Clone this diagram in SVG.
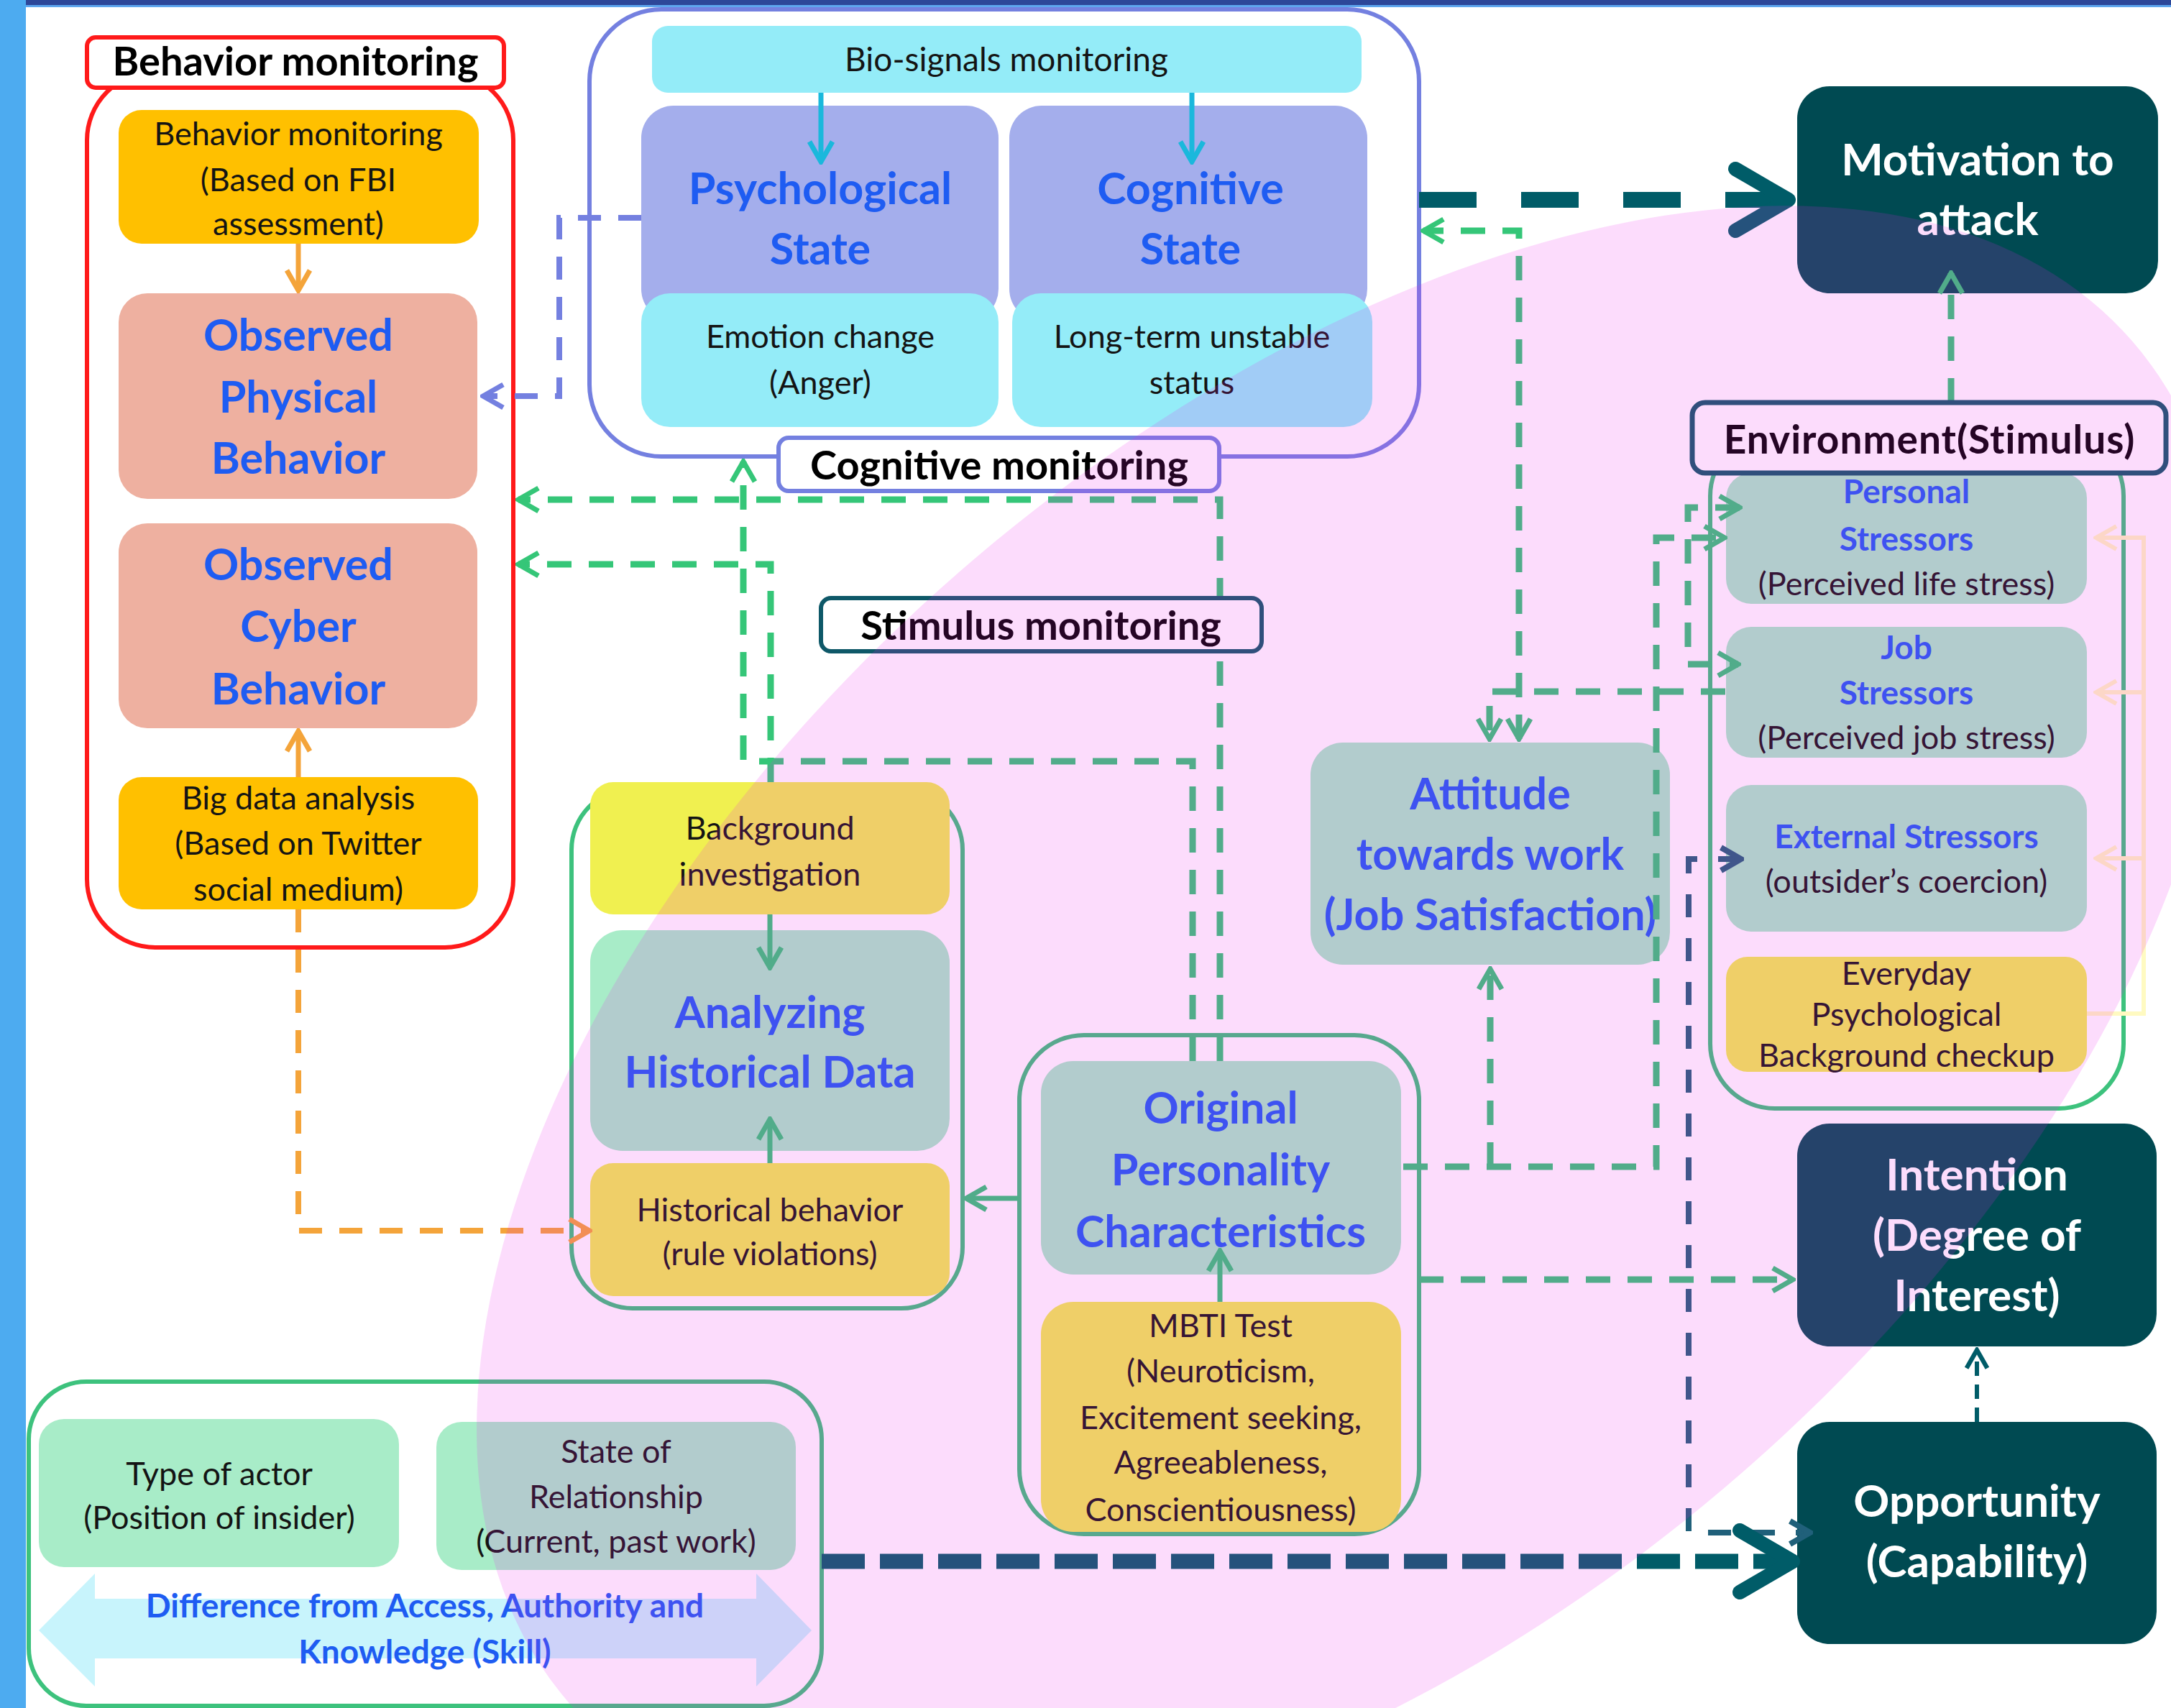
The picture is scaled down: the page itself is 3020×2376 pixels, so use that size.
<svg xmlns="http://www.w3.org/2000/svg" width="3020" height="2376" viewBox="0 0 3020 2376">
<style>
text{font-family:Lato,"Liberation Sans",sans-serif;text-anchor:middle}
.tb{font-weight:700;fill:#1e5cf2;font-size:61px}
.ts{font-weight:700;fill:#1e5cf2;font-size:46px}
.tn{fill:#141414;font-size:45px}
.tw{fill:#fff;font-weight:700;font-size:62px}
.lb{font-weight:700;font-size:56px;fill:#000}
.g{fill:#a8ecc8}.y{fill:#f0f050}.o{fill:#ffc000}.s{fill:#eeb0a0}.c{fill:#94ecf8}.l{fill:#a4aeec}.d{fill:#004a52}
.cont{fill:none;stroke-width:6}
.gd{fill:none;stroke:#35c678;stroke-width:9;stroke-dasharray:34 24}
.gs{fill:none;stroke:#35c678;stroke-width:7}
.od{fill:none;stroke:#f4a43a;stroke-width:8;stroke-dasharray:32 24}
.os{fill:none;stroke:#f4a43a;stroke-width:7}
.bd{fill:none;stroke:#7480e0;stroke-width:8;stroke-dasharray:32 24}
.cs{fill:none;stroke:#1ab8dc;stroke-width:7}
.nd{fill:none;stroke:#20607a;stroke-width:8;stroke-dasharray:32 29}
.t1{fill:none;stroke:#005c68;stroke-width:22;stroke-dasharray:80 62}
.t2{fill:none;stroke:#005c68;stroke-width:21;stroke-dasharray:60 21}
.t3{fill:none;stroke:#005c68;stroke-width:6;stroke-dasharray:20 12}
.pk{fill:none;stroke:#fffac1;stroke-width:6}
</style>
<defs>
<marker id="mg" viewBox="0 0 40 40" refX="36" refY="20" markerWidth="40" markerHeight="40" markerUnits="userSpaceOnUse" orient="auto-start-reverse"><path d="M8,4 L36,20 L8,36" fill="none" stroke="#35c678" stroke-width="7"/></marker>
<marker id="mo" viewBox="0 0 40 40" refX="36" refY="20" markerWidth="40" markerHeight="40" markerUnits="userSpaceOnUse" orient="auto-start-reverse"><path d="M8,4 L36,20 L8,36" fill="none" stroke="#f4a43a" stroke-width="7"/></marker>
<marker id="mb" viewBox="0 0 40 40" refX="36" refY="20" markerWidth="40" markerHeight="40" markerUnits="userSpaceOnUse" orient="auto-start-reverse"><path d="M8,4 L36,20 L8,36" fill="none" stroke="#7480e0" stroke-width="7"/></marker>
<marker id="mc" viewBox="0 0 40 40" refX="36" refY="20" markerWidth="40" markerHeight="40" markerUnits="userSpaceOnUse" orient="auto-start-reverse"><path d="M8,4 L36,20 L8,36" fill="none" stroke="#1ab8dc" stroke-width="7"/></marker>
<marker id="mn" viewBox="0 0 40 40" refX="36" refY="20" markerWidth="40" markerHeight="40" markerUnits="userSpaceOnUse" orient="auto-start-reverse"><path d="M8,4 L36,20 L8,36" fill="none" stroke="#20607a" stroke-width="8"/></marker>
<marker id="mp" viewBox="0 0 40 40" refX="36" refY="20" markerWidth="40" markerHeight="40" markerUnits="userSpaceOnUse" orient="auto-start-reverse"><path d="M8,4 L36,20 L8,36" fill="none" stroke="#fffac1" stroke-width="6"/></marker>
<marker id="ms" viewBox="0 0 40 40" refX="36" refY="20" markerWidth="36" markerHeight="36" markerUnits="userSpaceOnUse" orient="auto-start-reverse"><path d="M8,4 L36,20 L8,36" fill="none" stroke="#005c68" stroke-width="7"/></marker>
<marker id="mt" viewBox="0 0 100 110" refX="88" refY="55" markerWidth="100" markerHeight="110" markerUnits="userSpaceOnUse" orient="auto-start-reverse"><path d="M14,12 L88,55 L14,98" fill="none" stroke="#005c68" stroke-width="20" stroke-linecap="round" stroke-linejoin="round"/></marker>
</defs>

<rect width="3020" height="2376" fill="#fff"/>
<rect x="0" y="0" width="3020" height="7" fill="#2d4799"/>
<rect x="0" y="7" width="3020" height="3" fill="#5ea6ee"/>
<rect x="0" y="0" width="36" height="2376" fill="#4dabf0"/>

<!-- Behavior monitoring column -->
<g id="behavior-monitoring">
<rect class="cont" x="121" y="100" width="593" height="1218" rx="95" stroke="#ff1a1a"/>
</g>
<g id="fbi-box"><rect class="o" x="165" y="153" width="501" height="186" rx="32"/>
<text class="tn" x="415" y="202">Behavior monitoring</text><text class="tn" x="415" y="266">(Based on FBI</text><text class="tn" x="415" y="327">assessment)</text></g>
<g id="observed-physical"><rect class="s" x="165" y="408" width="499" height="286" rx="40"/>
<text class="tb" x="415" y="488">Observed</text><text class="tb" x="415" y="574">Physical</text><text class="tb" x="415" y="659">Behavior</text></g>
<g id="observed-cyber"><rect class="s" x="165" y="728" width="499" height="285" rx="40"/>
<text class="tb" x="415" y="807">Observed</text><text class="tb" x="415" y="893">Cyber</text><text class="tb" x="415" y="980">Behavior</text></g>
<g id="big-data"><rect class="o" x="165" y="1081" width="500" height="184" rx="32"/>
<text class="tn" x="415" y="1126">Big data analysis</text><text class="tn" x="415" y="1189">(Based on Twitter</text><text class="tn" x="415" y="1253">social medium)</text></g>

<!-- Cognitive monitoring -->
<g id="cognitive-monitoring"><rect class="cont" x="820" y="13" width="1154" height="622" rx="100" stroke="#7480e0"/></g>
<g id="bio-signals"><rect class="c" x="907" y="36" width="987" height="93" rx="22"/>
<text class="tn" x="1400" y="99" style="font-size:46px">Bio-signals monitoring</text></g>
<g id="psychological-state"><rect class="l" x="892" y="147" width="497" height="300" rx="45"/>
<text class="tb" x="1141" y="284">Psychological</text><text class="tb" x="1141" y="368">State</text></g>
<g id="emotion-change"><rect class="c" x="892" y="408" width="497" height="186" rx="40"/>
<text class="tn" x="1141" y="484">Emotion change</text><text class="tn" x="1141" y="548">(Anger)</text></g>
<g id="cognitive-state"><rect class="l" x="1404" y="147" width="498" height="300" rx="45"/>
<text class="tb" x="1656" y="284">Cognitive</text><text class="tb" x="1656" y="368">State</text></g>
<g id="long-term"><rect class="c" x="1408" y="408" width="501" height="186" rx="40"/>
<text class="tn" x="1658" y="484">Long-term unstable</text><text class="tn" x="1658" y="548">status</text></g>

<!-- Historical -->
<g id="historical-group"><rect class="cont" x="795" y="1097" width="544" height="723" rx="85" stroke="#3dc27d"/></g>
<g id="background-investigation"><rect class="y" x="821" y="1088" width="500" height="184" rx="32"/>
<text class="tn" x="1071" y="1168">Background</text><text class="tn" x="1071" y="1232">investigation</text></g>
<g id="analyzing"><rect class="g" x="821" y="1294" width="500" height="307" rx="45"/>
<text class="tb" x="1071" y="1430">Analyzing</text><text class="tb" x="1071" y="1513">Historical Data</text></g>
<g id="historical-behavior"><rect class="y" x="821" y="1618" width="500" height="185" rx="32"/>
<text class="tn" x="1071" y="1699">Historical behavior</text><text class="tn" x="1071" y="1760">(rule violations)</text></g>

<!-- Original personality -->
<g id="personality-group"><rect class="cont" x="1418" y="1440" width="556" height="694" rx="90" stroke="#3dc27d"/></g>
<g id="original-personality"><rect class="g" x="1448" y="1476" width="501" height="297" rx="45"/>
<text class="tb" x="1698" y="1563">Original</text><text class="tb" x="1698" y="1649">Personality</text><text class="tb" x="1698" y="1735">Characteristics</text></g>
<g id="mbti"><rect class="y" x="1448" y="1811" width="501" height="320" rx="45"/>
<text class="tn" x="1698" y="1860">MBTI Test</text><text class="tn" x="1698" y="1923">(Neuroticism,</text><text class="tn" x="1698" y="1988">Excitement seeking,</text><text class="tn" x="1698" y="2050">Agreeableness,</text><text class="tn" x="1698" y="2116">Conscientiousness)</text></g>

<!-- Bottom group -->
<g id="actor-group"><rect class="cont" x="40" y="1922" width="1103" height="451" rx="80" stroke="#3dc27d"/></g>
<g id="type-of-actor"><rect class="g" x="54" y="1974" width="501" height="206" rx="35"/>
<text class="tn" x="305" y="2066">Type of actor</text><text class="tn" x="305" y="2127">(Position of insider)</text></g>
<g id="state-of-relationship"><rect class="g" x="607" y="1978" width="500" height="206" rx="35"/>
<text class="tn" x="857" y="2035">State of</text><text class="tn" x="857" y="2098">Relationship</text><text class="tn" x="857" y="2160">(Current, past work)</text></g>
<g id="difference-arrow"><polygon points="54,2268 132,2189 132,2224 1052,2224 1052,2189 1129,2268 1052,2346 1052,2307 132,2307 132,2346" fill="#c8f4fc"/>
<text class="ts" x="591" y="2250">Difference from Access, Authority and</text><text class="ts" x="591" y="2314">Knowledge (Skill)</text></g>

<!-- Attitude -->
<g id="attitude"><rect class="g" x="1823" y="1033" width="500" height="309" rx="45"/>
<text class="tb" x="2073" y="1126">Attitude</text><text class="tb" x="2073" y="1210">towards work</text><text class="tb" x="2073" y="1294">(Job Satisfaction)</text></g>

<!-- Environment -->
<g id="environment-group"><rect class="cont" x="2379" y="600" width="575" height="942" rx="90" stroke="#3dc27d"/></g>
<g id="personal-stressors"><rect class="g" x="2401" y="658" width="502" height="182" rx="35"/>
<text class="ts" x="2652" y="700">Personal</text><text class="ts" x="2652" y="766">Stressors</text><text class="tn" x="2652" y="828">(Perceived life stress)</text></g>
<g id="job-stressors"><rect class="g" x="2401" y="872" width="502" height="182" rx="35"/>
<text class="ts" x="2652" y="917">Job</text><text class="ts" x="2652" y="980">Stressors</text><text class="tn" x="2652" y="1042">(Perceived job stress)</text></g>
<g id="external-stressors"><rect class="g" x="2401" y="1092" width="502" height="204" rx="35"/>
<text class="ts" x="2652" y="1180">External Stressors</text><text class="tn" x="2652" y="1242">(outsider’s coercion)</text></g>
<g id="everyday"><rect class="y" x="2401" y="1331" width="502" height="160" rx="30"/>
<text class="tn" x="2652" y="1370">Everyday</text><text class="tn" x="2652" y="1427">Psychological</text><text class="tn" x="2652" y="1484">Background checkup</text></g>

<!-- Dark outcome boxes -->
<g id="motivation"><rect class="d" x="2500" y="120" width="502" height="288" rx="45"/>
<text class="tw" x="2751" y="244">Motivation to</text><text class="tw" x="2751" y="327">attack</text></g>
<g id="intention"><rect class="d" x="2500" y="1563" width="500" height="310" rx="45"/>
<text class="tw" x="2750" y="1656">Intention</text><text class="tw" x="2750" y="1740">(Degree of</text><text class="tw" x="2750" y="1824">Interest)</text></g>
<g id="opportunity"><rect class="d" x="2500" y="1978" width="500" height="309" rx="45"/>
<text class="tw" x="2750" y="2110">Opportunity</text><text class="tw" x="2750" y="2194">(Capability)</text></g>

<!-- Connectors -->
<g id="connectors">
<path class="os" d="M415,339 V404" marker-end="url(#mo)"/>
<path class="os" d="M415,1081 V1017" marker-end="url(#mo)"/>
<path class="od" d="M415,1265 V1712 H820" marker-end="url(#mo)"/>
<path class="bd" d="M892,303 H778 V551 H672" marker-end="url(#mb)"/>
<path class="cs" d="M1142,129 V225" marker-end="url(#mc)"/>
<path class="cs" d="M1658,129 V225" marker-end="url(#mc)"/>
<path class="gs" d="M1071,1272 V1346" marker-end="url(#mg)"/>
<path class="gs" d="M1071,1618 V1557" marker-end="url(#mg)"/>
<path class="gs" d="M1697,1811 V1740" marker-end="url(#mg)"/>
<path class="gs" d="M1418,1667 H1344" marker-end="url(#mg)"/>
<path class="gd" d="M1697,1476 V695 H721" marker-end="url(#mg)"/>
<path class="gd" d="M1072,1088 V785 H721" marker-end="url(#mg)"/>
<path class="gd" d="M1659,1476 V1059 H1034 V642" marker-end="url(#mg)"/>
<path class="gd" d="M2113,1028 V321 H1980" marker-start="url(#mg)" marker-end="url(#mg)"/>
<path class="gd" d="M2400,962 H2072 V1028" marker-end="url(#mg)"/>
<path class="gd" d="M1952,1623 H2304 V748 H2399" marker-end="url(#mg)"/>
<path class="gd" d="M2073,1623 V1348" marker-end="url(#mg)"/>
<path class="gd" d="M2420,706 H2348 V924 H2418" marker-start="url(#mg)" marker-end="url(#mg)"/>
<path class="gd" d="M1974,1780 H2494" marker-end="url(#mg)"/>
<path class="gd" d="M2714,560 V380" marker-end="url(#mg)"/>
<path class="nd" d="M2422,1195 H2349 V2132 H2518" marker-start="url(#mn)" marker-end="url(#mn)"/>
<path class="pk" d="M2903,1410 H2982 V748 H2916" marker-end="url(#mp)"/>
<path class="pk" d="M2982,963 H2916" marker-end="url(#mp)"/>
<path class="pk" d="M2982,1194 H2916" marker-end="url(#mp)"/>
<path class="t1" d="M1974,278 H2488" marker-end="url(#mt)"/>
<path class="t2" d="M1143,2172 H2494" marker-end="url(#mt)"/>
<path class="t3" d="M2750,1978 V1878" marker-end="url(#ms)"/>
</g>

<!-- Labels -->
<g id="label-behavior"><rect x="121" y="52" width="580" height="70" rx="12" fill="#fff" stroke="#ff1a1a" stroke-width="6"/>
<text class="lb" x="411" y="105">Behavior monitoring</text></g>
<g id="label-cognitive"><rect x="1083" y="609" width="613" height="74" rx="14" fill="#fff" stroke="#7480e0" stroke-width="6"/>
<text class="lb" x="1390" y="667">Cognitive monitoring</text></g>
<g id="label-stimulus"><rect x="1142" y="832" width="613" height="74" rx="14" fill="#fff" stroke="#0e5868" stroke-width="6"/>
<text class="lb" x="1448" y="890">Stimulus monitoring</text></g>
<g id="label-environment"><rect x="2354" y="560" width="659" height="98" rx="18" fill="#fff" stroke="#0e5868" stroke-width="7"/>
<text class="lb" x="2684" y="631" style="font-size:55px;letter-spacing:1px">Environment(Stimulus)</text></g>

<!-- translucent overlay -->
<ellipse cx="1879" cy="1422" rx="1442" ry="830" transform="rotate(-41.1 1879 1422)" fill="#ec20ec" fill-opacity="0.157"/>
</svg>
